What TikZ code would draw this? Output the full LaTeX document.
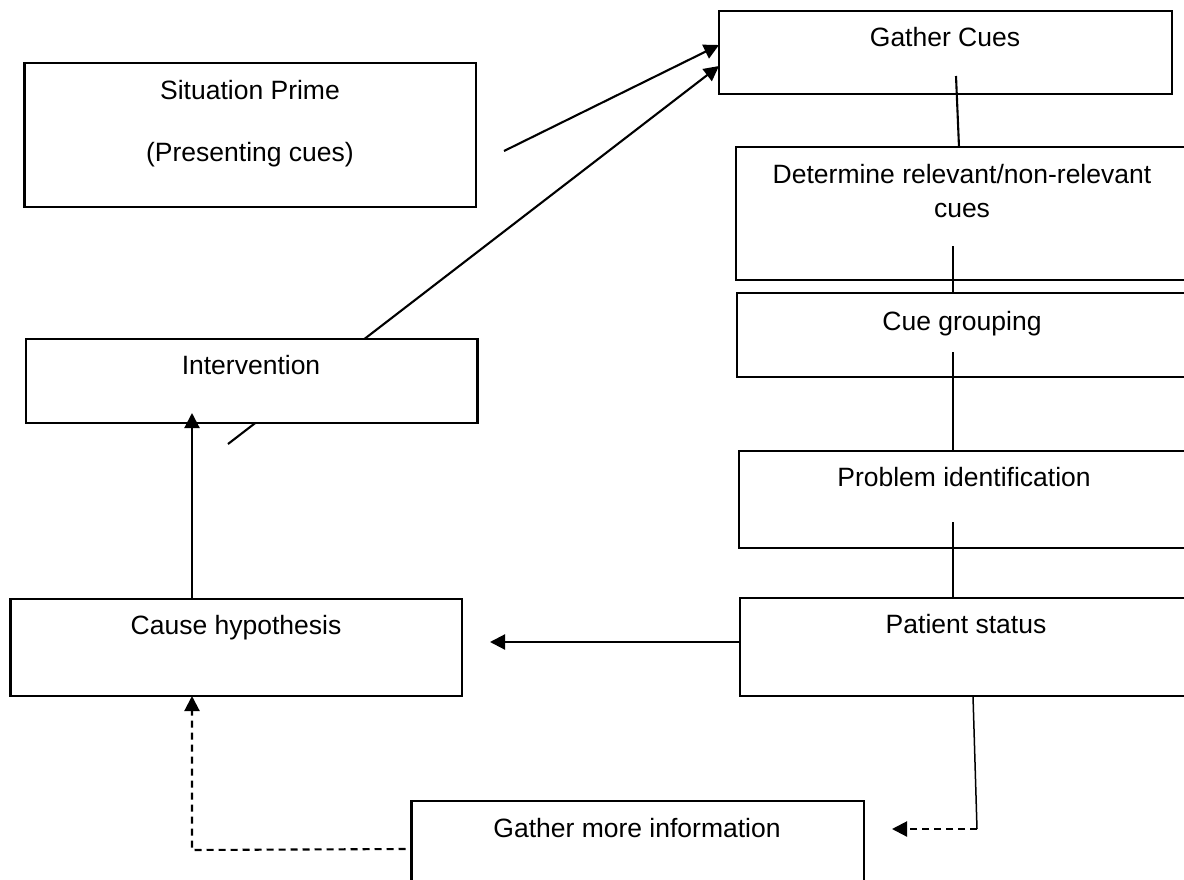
\documentclass[tikz,border=0pt]{standalone}
\usepackage{fontspec}
\setmainfont{Liberation Sans}
\usetikzlibrary{arrows.meta,calc}

\begin{document}
\begin{tikzpicture}[x=1pt,y=-1pt,
  box/.style={draw,line width=2.1pt,fill=white,inner sep=0pt,outer sep=0pt},
  txt/.style={inner sep=0pt,anchor=base,font=\fontsize{26.5}{32}\selectfont},
  link/.style={line width=2.1pt},
  arr/.style={link,-{Triangle[length=15pt,width=15pt]}},
  dashlink/.style={link,dash pattern=on 7pt off 5pt},
  dasharr/.style={dashlink,-{Triangle[length=15pt,width=15pt]}}
]
\useasboundingbox (0,0) rectangle (1184,879);
\clip (0,0) rectangle (1184,879);

% right-hand column of steps
\node[box,minimum width=451.5pt,minimum height=144pt] (sit) at (250.25,135) {};
\node[box,minimum width=453pt,minimum height=83pt] (gc) at (945.5,52.5) {};
\node[box,minimum width=464pt,minimum height=133pt] (det) at (968,213.5) {};
\node[box,minimum width=463pt,minimum height=84pt] (cue) at (968.5,335) {};
\node[box,minimum width=461pt,minimum height=97pt] (prob) at (969.5,499.5) {};
\node[box,minimum width=460pt,minimum height=98pt] (pat) at (970,647) {};

% feedback from intervention back to gathering cues (passes behind the box)
\coordinate (ints) at (228,444);
\draw[arr] (ints) -- ($(gc.west)+(0,13.5)$);

% left-hand column and the extra-information step
\node[box,minimum width=451.5pt,minimum height=84pt] (int) at (251.75,381) {};
\node[box,minimum width=451.5pt,minimum height=97pt] (cause) at (236.25,647.5) {};
\node[box,minimum width=452.5pt,minimum height=109pt] (more) at (637.75,855.5) {};

% labels
\node[txt] (sitt1) at (250,99) {Situation Prime};
\node[txt] (sitt2) at (250,161) {(Presenting cues)};
\node[txt] (gct) at (945,46) {Gather Cues};
\node[txt] (dett1) at (962,183) {Determine relevant/non-relevant};
\node[txt] (dett2) at (962,217) {cues};
\node[txt] (cuet) at (962,330) {Cue grouping};
\node[txt] (probt) at (964,486) {Problem identification};
\node[txt] (patt) at (966,633) {Patient status};
\node[txt] (intt) at (251,374) {Intervention};
\node[txt] (causet) at (236,634) {Cause hypothesis};
\node[txt] (moret) at (637,837) {Gather more information};

% presenting cues feed the cue gathering
\coordinate (sits) at (504,151);
\draw[arr] (sits) -- ($(gc.west)+(0,-7.5)$);

% chain down the right-hand column
\coordinate (gcs) at (956,76);
\draw[link] (gcs) -- ($(det.north)+(-9,0)$);
\coordinate (dets) at (953,246);
\draw[link] (dets) -- (dets |- cue.north);
\coordinate (cues) at (953,352);
\draw[link] (cues) -- (cues |- prob.north);
\coordinate (probs) at (953,522);
\draw[link] (probs) -- (probs |- pat.north);

% patient status to cause hypothesis
\coordinate (pce) at (490,642);
\draw[arr] (pat.west |- pce) -- (pce);

% cause hypothesis to intervention
\coordinate (inttip) at (192,413);
\draw[arr] (inttip |- cause.north) -- (inttip);

% patient status to gathering more information
\coordinate (pmc) at (977,829);
\coordinate (pmt) at (892,829);
\draw[line width=1.5pt] ($(pat.south)+(3,0)$) -- (pmc);
\draw[dasharr] (pmc) -- (pmt);

% more information back to cause hypothesis
\coordinate (mcc) at (192,850);
\draw[dasharr] ($(more.west)+(-6,-6.5)$) -- (mcc) -- (mcc |- cause.south);
\end{tikzpicture}
\end{document}
